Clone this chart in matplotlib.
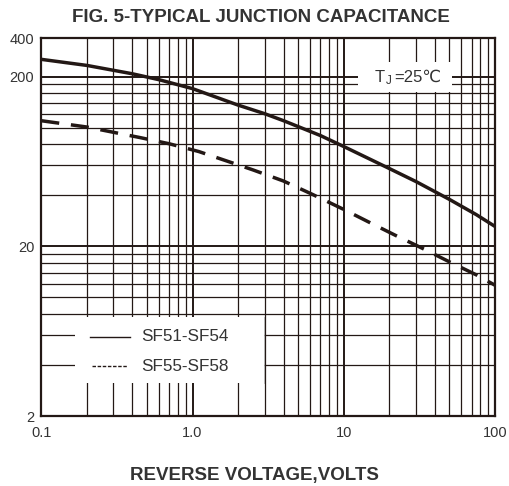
import matplotlib
matplotlib.use("Agg")
import matplotlib.pyplot as plt
from matplotlib.ticker import FixedLocator, NullFormatter
from matplotlib.patches import Rectangle

# ---- data ----
x_solid = [0.1, 0.2, 0.4, 0.6, 1.0, 2.0, 3.0, 4.0, 7.0, 10, 20, 30, 50, 75, 100]
c_solid = [253, 233, 208, 192, 170, 136, 121, 110, 90, 77.5, 57.5, 48.2, 37.8, 30.8, 26.2]
x_dash = [0.1, 0.2, 0.3, 0.45, 0.7, 1.1, 1.7, 2.5, 4.0, 6.2, 10, 15, 22, 33, 50, 75, 100]
c_dash = [110, 101, 94, 87.5, 80.5, 72.4, 63.5, 56.5, 48.5, 40.5, 33, 27.5, 23.2, 19.5, 16.2, 13.6, 11.8]
series_labels = ["SF51-SF54", "SF55-SF58"]
x_ticks = [0.1, 1.0, 10, 100]
x_ticklabels = ["0.1", "1.0", "10", "100"]
y_top = 338
y_ticks = [2, 20, 200, y_top]
y_ticklabels = ["2", "20", "200", "400"]
y_grid = [2, 4, 6, 8, 10, 12, 14, 16, 18, 20, 40, 60, 80, 100, 120, 140, 160, 180, 200]
x_grid = [m * d for d in (0.1, 1, 10) for m in range(2, 10)]

INK = "#231815"
TXT = "#333333"
FONT = ["Liberation Sans", "DejaVu Sans"]
plt.rcParams["font.family"] = FONT

fig = plt.figure(figsize=(5.10, 4.86), dpi=100)
ax = fig.add_axes([0.081, 0.144, 0.8896, 0.7778])
ax.set_xscale("log")
ax.set_yscale("log")
ax.set_xlim(0.1, 100)
ax.set_ylim(2, y_top)

ax.xaxis.set_major_locator(FixedLocator(x_ticks))
ax.set_xticklabels(x_ticklabels)
ax.xaxis.set_minor_locator(FixedLocator(x_grid))
ax.xaxis.set_minor_formatter(NullFormatter())
ax.yaxis.set_major_locator(FixedLocator(y_ticks))
ax.set_yticklabels(y_ticklabels)
ax.yaxis.set_minor_locator(FixedLocator(y_grid))
ax.yaxis.set_minor_formatter(NullFormatter())
ax.tick_params(which="both", length=0, labelsize=10.5, labelcolor=TXT)
ax.tick_params(axis="x", pad=7)
ax.tick_params(axis="y", pad=5)

ax.grid(True, which="minor", color=INK, lw=0.9, zorder=1)
ax.grid(True, which="major", color=INK, lw=1.4, zorder=1)
ax.set_axisbelow(True)
for s in ax.spines.values():
    s.set_color(INK)
    s.set_linewidth(1.6)

# white boxes covering grid
ax.add_patch(Rectangle((0.074, 0.087), 0.417, 0.175, transform=ax.transAxes,
                       facecolor="white", edgecolor="none", zorder=2))
ax.plot([0.491, 0.491], [0.087, 0.262], transform=ax.transAxes, color="#aaaaaa",
        lw=0.6, zorder=2)
ax.add_patch(Rectangle((0.698, 0.857), 0.207, 0.08, transform=ax.transAxes,
                       facecolor="white", edgecolor="none", zorder=2))

ax.plot(x_solid, c_solid, color=INK, lw=2.5, solid_capstyle="butt", zorder=3)
ax.plot(x_dash, c_dash, color=INK, lw=2.5, dashes=(5.2, 3.4), zorder=3)

# legend (manual)
ax.plot([0.107, 0.195], [0.21, 0.21], transform=ax.transAxes, color=INK, lw=1.0, zorder=4)
ax.plot([0.111, 0.189], [0.132, 0.132], transform=ax.transAxes, color=INK, lw=1.0,
        dashes=(2.5, 1.2), zorder=4)
ax.text(0.22, 0.21, series_labels[0], transform=ax.transAxes, fontsize=12.3,
        color=TXT, va="center", ha="left", zorder=4)
ax.text(0.22, 0.132, series_labels[1], transform=ax.transAxes, fontsize=12.3,
        color=TXT, va="center", ha="left", zorder=4)

# TJ label
ax.text(0.735, 0.896, "T", transform=ax.transAxes, fontsize=12, color=TXT,
        va="center", ha="left", zorder=4)
ax.text(0.760, 0.887, "J", transform=ax.transAxes, fontsize=8.5, color=TXT,
        va="center", ha="left", zorder=4)
ax.text(0.778, 0.896, "=25℃", transform=ax.transAxes, fontsize=12, color=TXT,
        va="center", ha="left", zorder=4)

fig.text(0.512, 0.965, "FIG. 5-TYPICAL JUNCTION CAPACITANCE", ha="center", va="center",
         fontsize=13.5, fontweight="bold", color=TXT)
fig.text(0.498, 0.021, "REVERSE VOLTAGE,VOLTS", ha="center", va="center",
         fontsize=13.5, fontweight="bold", color=TXT)

fig.savefig("out.png", dpi=100)
